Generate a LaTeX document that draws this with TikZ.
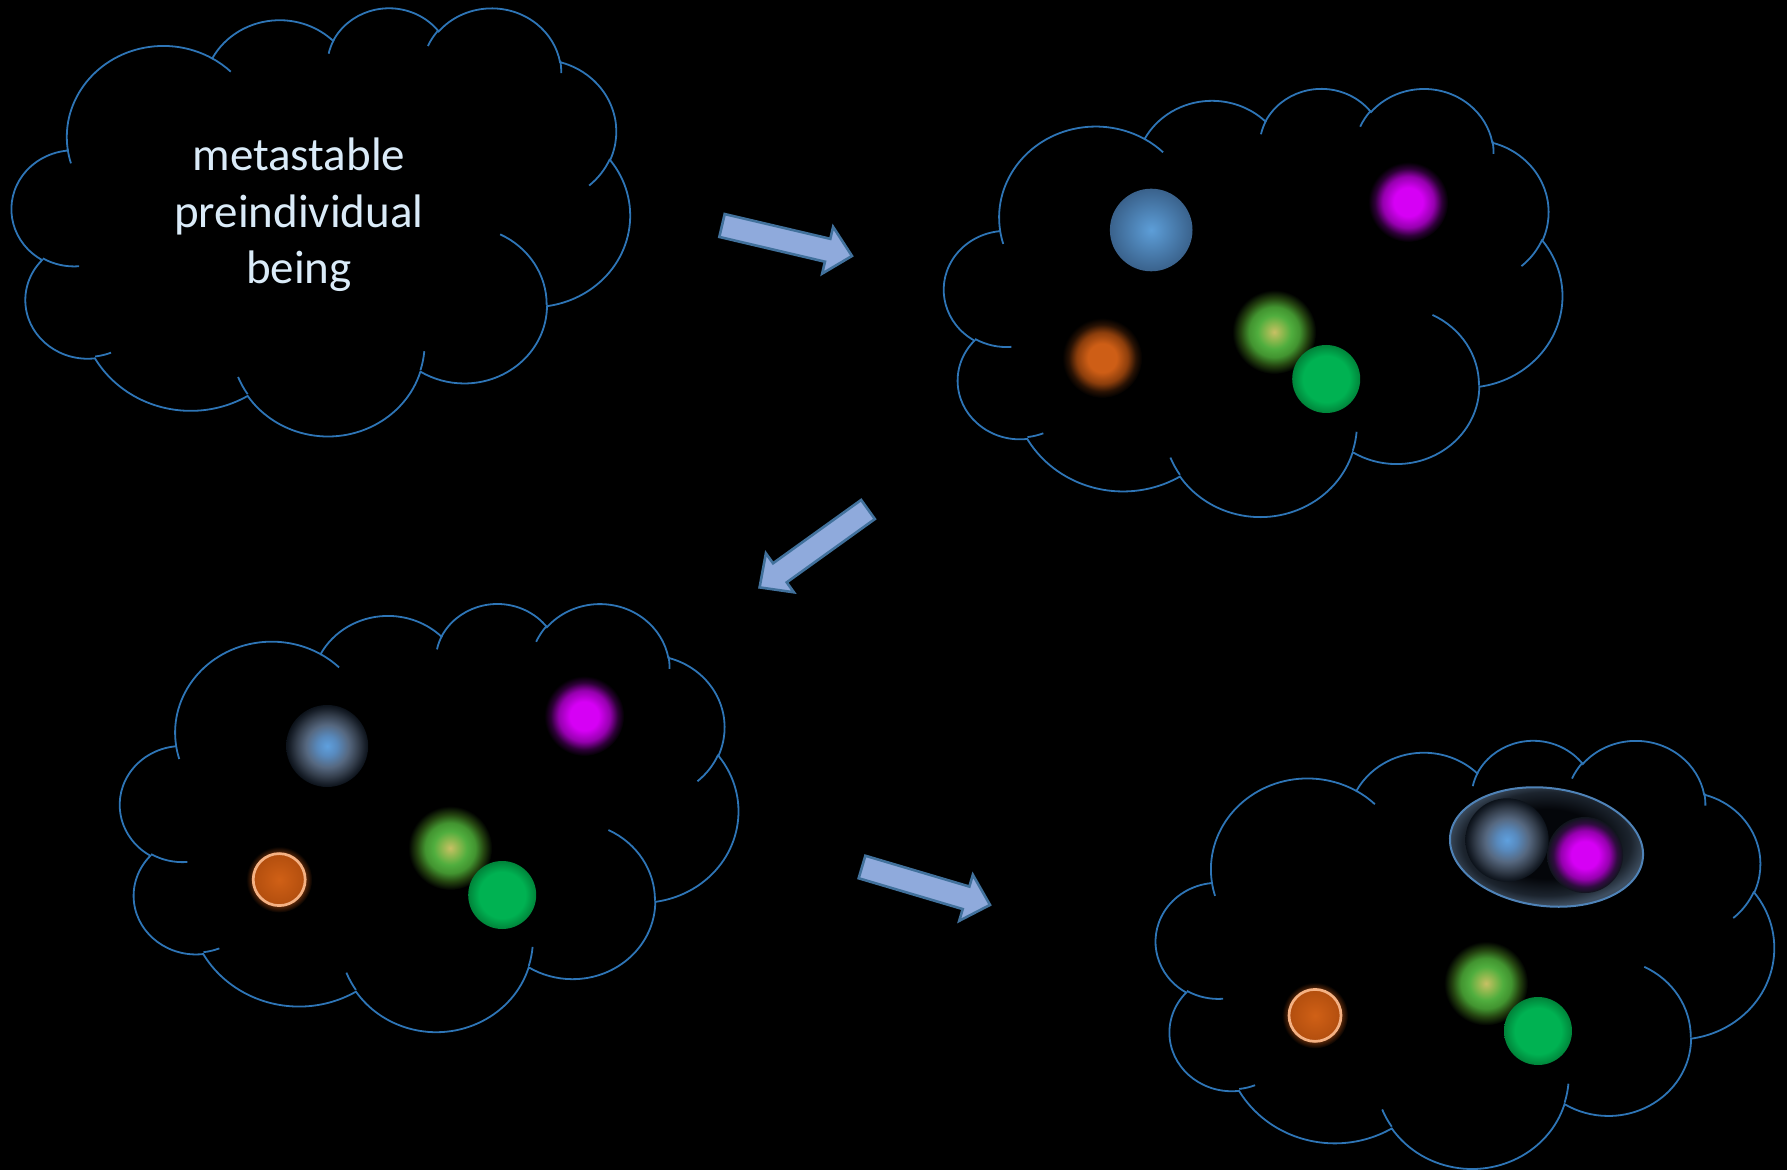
\documentclass[tikz,border=0pt]{standalone}
\usepackage{fontspec}
\setmainfont{Carlito}
\usepackage{xcolor}
\usepackage{tikz}
\usetikzlibrary{shapes.geometric}
\definecolor{cloudblue}{HTML}{2E75B6}
\definecolor{arrowfill}{HTML}{8FAADC}
\definecolor{arrowline}{HTML}{41719C}
\definecolor{wordpale}{HTML}{DAEBF8}
\definecolor{ringorange}{HTML}{F4B183}
\definecolor{pairline}{HTML}{4F83B8}
\definecolor{sphereC}{RGB}{93,158,216}
\definecolor{sphereE}{RGB}{58,98,140}
\definecolor{fogC}{RGB}{95,160,222}
\definecolor{fogL}{RGB}{88,138,190}
\definecolor{fogM}{RGB}{86,104,128}
\definecolor{fogE}{RGB}{52,62,76}
\definecolor{fogD}{RGB}{24,31,41}
\definecolor{fogR}{RGB}{12,18,26}
\definecolor{magC}{RGB}{214,0,245}
\definecolor{magM}{RGB}{150,0,175}
\definecolor{magE}{RGB}{45,0,55}
\definecolor{magP}{RGB}{48,12,64}
\definecolor{orgC}{RGB}{206,94,22}
\definecolor{orgM}{RGB}{140,62,12}
\definecolor{orgE}{RGB}{40,18,4}
\definecolor{orgH}{RGB}{110,48,10}
\definecolor{limeC}{RGB}{200,192,100}
\definecolor{limeL}{RGB}{140,184,78}
\definecolor{limeM}{RGB}{80,174,62}
\definecolor{limeO}{RGB}{66,148,48}
\definecolor{limeE}{RGB}{36,68,16}
\definecolor{leafC}{RGB}{0,178,82}
\definecolor{leafE}{RGB}{0,132,58}
\definecolor{emberC}{RGB}{208,96,22}
\definecolor{emberE}{RGB}{178,78,14}
\definecolor{pairC}{RGB}{4,6,10}
\definecolor{pairM}{RGB}{28,36,46}
\definecolor{pairE}{RGB}{62,78,96}
\definecolor{pairS}{RGB}{16,21,28}

\pgfdeclareradialshading{sphere}{\pgfpoint{0bp}{0bp}}{color(0bp)=(sphereC); color(25bp)=(sphereE); color(50bp)=(sphereE)}
\pgfdeclareradialshading{fog}{\pgfpoint{0bp}{0bp}}{color(0bp)=(fogC); color(6bp)=(fogL); color(13bp)=(fogM); color(19bp)=(fogE); color(23bp)=(fogD); color(25bp)=(fogR); color(50bp)=(fogR)}
\pgfdeclareradialshading{magglow}{\pgfpoint{0bp}{0bp}}{color(0bp)=(magC); color(9bp)=(magC); color(16bp)=(magM); color(21bp)=(magE); color(25bp)=(black); color(50bp)=(black)}
\pgfdeclareradialshading{magpair}{\pgfpoint{0bp}{0bp}}{color(0bp)=(magC); color(9bp)=(magC); color(16bp)=(magM); color(21bp)=(magP); color(25bp)=(pairS); color(50bp)=(pairS)}
\pgfdeclareradialshading{orgglow}{\pgfpoint{0bp}{0bp}}{color(0bp)=(orgC); color(9bp)=(orgC); color(16bp)=(orgM); color(21bp)=(orgE); color(25bp)=(black); color(50bp)=(black)}
\pgfdeclareradialshading{limeglow}{\pgfpoint{0bp}{0bp}}{color(0bp)=(limeC); color(5bp)=(limeL); color(10bp)=(limeM); color(15bp)=(limeO); color(20bp)=(limeE); color(25bp)=(black); color(50bp)=(black)}
\pgfdeclareradialshading{leaf}{\pgfpoint{0bp}{0bp}}{color(0bp)=(leafC); color(17bp)=(leafC); color(25bp)=(leafE); color(50bp)=(leafE)}
\pgfdeclareradialshading{ember}{\pgfpoint{0bp}{0bp}}{color(0bp)=(emberC); color(25bp)=(emberE); color(50bp)=(emberE)}
\pgfdeclareradialshading{halo}{\pgfpoint{0bp}{0bp}}{color(0bp)=(orgC); color(17bp)=(orgC); color(19bp)=(orgH); color(25bp)=(black); color(50bp)=(black)}
\pgfdeclareradialshading{pairfog}{\pgfpoint{0bp}{0bp}}{color(0bp)=(pairC); color(14bp)=(pairC); color(21bp)=(pairM); color(25bp)=(pairE); color(50bp)=(pairE)}

% one bump of the cloud outline: radii, start angle, sweep (angles seen from the centre)
\newcommand{\puff}[4]{arc[x radius=#1pt, y radius=#2pt, start angle={atan2(#1*sin(#3),#2*cos(#3))}, delta angle={mod(atan2(#1*sin(#3+#4),#2*cos(#3+#4))-atan2(#1*sin(#3),#2*cos(#3))+720,360)}]}

\newcommand{\drawcloud}{%
  \begin{scope}[x=1pt,y=1pt,xscale=0.7153,yscale=-0.4954]
    \draw[cloudline] (39,143.7) \puff{67.53}{91.90}{-190.4875}{123.7805}
      \puff{53.33}{72.67}{-144.1024}{89.9452} \puff{43.65}{59.45}{-145.8079}{99.7230}
      \puff{48.57}{65.95}{-130.9861}{117.2417} \puff{53.33}{72.73}{-78.7089}{109.0269}
      \puff{67.75}{92.20}{-46.2673}{130.2690} \puff{57.85}{78.67}{0.6250}{114.0333}
      \puff{67.52}{92.15}{22.4516}{115.1726} \puff{77.20}{105.43}{66.2426}{75.7110}
      \puff{43.60}{59.18}{-274.9421}{146.7356} \puff{43.45}{59.45}{-246.8285}{152.5189} -- cycle;
    \draw[cloudline] (46.93,261.77) \puff{43.45}{59.45}{86.742}{26.4295}
      (69.28,348.99) \puff{43.60}{59.18}{73.6105}{11.4475}
      (164.78,390.90) \puff{67.52}{92.15}{137.6242}{14.0811}
      (288.27,347.51) \puff{67.52}{92.15}{6.4533}{15.9984}
      (341.29,229.54) \puff{57.85}{78.67}{-70.2924}{70.9174}
      (417.98,153.54) \puff{53.33}{72.73}{30.3180}{27.7515}
      (383.24,54.26) \puff{48.57}{65.95}{-13.7443}{14.8589}
      (290.78,39.52) \puff{48.57}{65.95}{-149.1815}{18.1954}
      (221.41,47.20) \puff{43.65}{59.45}{-163.4943}{17.6864}
      (140.00,51.92) \puff{67.53}{91.90}{-66.7070}{12.3194}
      (41.27,157.89) \puff{67.53}{91.90}{157.6544}{11.8582};
  \end{scope}}

\newcommand{\blockarrow}[2]{\draw[bigarrow,shift={#1},rotate=#2] (0,-11.75) -- (108.5,-11.75) -- (108.5,-24) -- (133.5,0) -- (108.5,24) -- (108.5,11.75) -- (0,11.75) -- cycle;}

\begin{document}
\begin{tikzpicture}[x=0.5pt,y=-0.5pt,
  cloudline/.style={draw=cloudblue,line width=0.9pt},
  bigarrow/.style={draw=arrowline,fill=arrowfill,line width=1.3pt},
  orb/.style={circle,inner sep=0pt,outer sep=0pt,shade,shading=#1},
  ring/.style={circle,inner sep=0pt,draw=ringorange,line width=1.35pt,shade,shading=ember}
]
\path[use as bounding box,fill=black] (0,0) rectangle (1787,1170);

\coordinate (cloudA) at (11.9,6.9);
\coordinate (cloudB) at (944.2,87.5);
\coordinate (cloudC) at (120.2,602.6);
\coordinate (cloudD) at (1156,739.4);

% first cloud
\begin{scope}[shift={(cloudA)}]
  \drawcloud
  \node[text=wordpale,align=center,font=\fontsize{23.5pt}{28.1pt}\selectfont] (being) at (287,208) {metastable\\preindividual\\being};
\end{scope}

% second cloud
\begin{scope}[shift={(cloudB)}]
  \drawcloud
  \node[orb=sphere,minimum size=41.3pt] (blueB) at (207,142.5) {};
  \node[orb=magglow,minimum size=40pt] (magB) at (464,114.5) {};
  \node[orb=orgglow,minimum size=40pt] (orgB) at (158,270.5) {};
  \node[orb=limeglow,minimum size=42pt] (limeB) at (330,244.5) {};
  \node[orb=leaf,minimum size=34pt] (leafB) at (382,291.5) {};
\end{scope}

% third cloud
\begin{scope}[shift={(cloudC)}]
  \drawcloud
  \node[orb=fog,minimum size=41pt] (blueC) at (207,143.4) {};
  \node[orb=magglow,minimum size=40pt] (magC) at (464,113.4) {};
  \node[orb=halo,minimum size=33pt] (haloC) at (159,277) {};
  \node[ring,minimum size=26pt] (orgC) at (159,277) {};
  \node[orb=limeglow,minimum size=42pt] (limeC) at (330,245.4) {};
  \node[orb=leaf,minimum size=34pt] (leafC) at (382,292.4) {};
\end{scope}

% fourth cloud
\begin{scope}[shift={(cloudD)}]
  \drawcloud
  \node[ellipse,inner sep=0pt,minimum width=97pt,minimum height=59pt,rotate=-7,shade,shading=pairfog,draw=pairline,line width=1pt] (pairD) at (390.5,107.6) {};
  \node[orb=magpair,minimum size=38pt] (magD) at (429,115.6) {};
  \node[orb=fog,minimum size=41.7pt] (blueD) at (351,100.6) {};
  \node[orb=halo,minimum size=33pt] (haloD) at (159,276) {};
  \node[ring,minimum size=26pt] (orgD) at (159,276) {};
  \node[orb=limeglow,minimum size=42pt] (limeD) at (330,244) {};
  \node[orb=leaf,minimum size=34pt] (leafD) at (382,291.6) {};
\end{scope}

\coordinate (stepA) at (722,225.5);
\coordinate (stepB) at (868,509.5);
\coordinate (stepC) at (862,867);
\blockarrow{(stepA)}{-13.2}
\blockarrow{(stepB)}{-144.3}
\blockarrow{(stepC)}{-16.5}
\end{tikzpicture}
\end{document}
